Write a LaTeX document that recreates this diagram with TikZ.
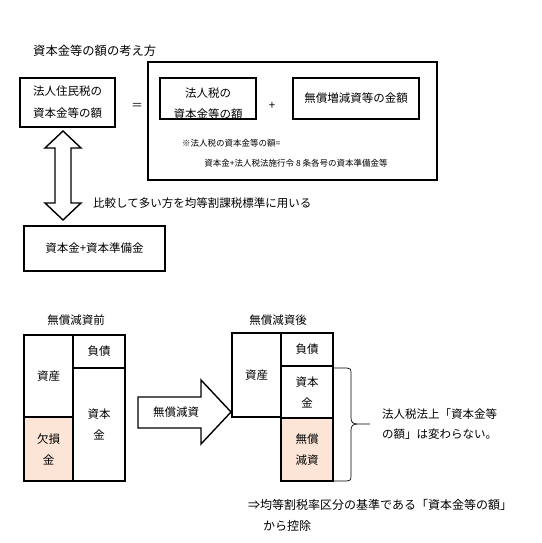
\documentclass[tikz,border=0pt]{standalone}
\usepackage{fontspec}
\setmainfont{Noto Sans CJK JP}
\definecolor{peach}{RGB}{252,229,214}
\begin{document}
\begin{tikzpicture}[x=1pt,y=-1pt,
  every node/.style={inner sep=0pt, font=\fontsize{11.5}{21}\selectfont},
  box/.style={draw, line width=1.6pt, align=center},
  cell/.style={draw, line width=1.6pt, align=center},
  txt/.style={align=left},
  note/.style={font=\fontsize{8.5}{10}\selectfont},
  blockarrow/.style={draw, line width=1.4pt, line join=miter, fill=white}]
\useasboundingbox (0,0) rectangle (541,543);
% ---------- top part ----------
\node[txt, anchor=west, font=\fontsize{12.3}{14}\selectfont] (title) at (33,51) {資本金等の額の考え方};
\node[box, minimum width=95pt, minimum height=49pt, font=\fontsize{11.5}{22}\selectfont] (jumin) at (67.5,102.5) {法人住民税の\\資本金等の額};
\node (eq) at (137,106) {＝};
\node[box, minimum width=289pt, minimum height=118pt] (big) at (292.5,121) {};
\node[box, minimum width=96pt, minimum height=41pt] (hojin) at (208,98.5) {};
\node[align=center] (hojintxt) at (208,104) {法人税の\\資本金等の額};
\node (plus) at (272,106) {+};
\node[box, minimum width=126pt, minimum height=41pt] (musho) at (356,98.5) {無償増減資等の金額};
\node[note, anchor=west] (note1) at (182,143) {※法人税の資本金等の額=};
\node[note] (note2) at (296,163) {資本金+法人税法施行令 8 条各号の資本準備金等};
% double arrow
\draw[blockarrow] (63,131) -- (81,148) -- (71,148) -- (71,203) -- (81,203) -- (63,220)
  -- (45,203) -- (55,203) -- (55,148) -- (45,148) -- cycle;
\node[txt, anchor=west] (hikaku) at (93,203) {比較して多い方を均等割課税標準に用いる};
\node[box, minimum width=141pt, minimum height=45pt] (junbi) at (94.5,248.5) {資本金+資本準備金};
% ---------- bottom left: before ----------
\node (mae) at (76,320) {無償減資前};
\node[cell, minimum width=49pt, minimum height=82pt] (shisanA) at (48.5,376) {資産};
\node[cell, fill=peach, minimum width=49pt, minimum height=64pt] (kesson) at (48.5,449) {欠損\\金};
\node[cell, minimum width=52pt, minimum height=33pt] (fusaiA) at (99,351.5) {負債};
\node[cell, minimum width=52pt, minimum height=113pt] (shihonA) at (99,424.5) {資本\\金};
% big right arrow
\draw[blockarrow] (138,397) -- (201,397) -- (201,380) -- (231,412) -- (201,444) -- (201,428) -- (138,428) -- cycle;
\node (gensi) at (176,412) {無償減資};
% ---------- bottom right: after ----------
\node (ato) at (278,320) {無償減資後};
\node[cell, minimum width=49pt, minimum height=84pt] (shisanB) at (256.5,375) {資産};
\node[cell, minimum width=52pt, minimum height=33pt] (fusaiB) at (307,349.5) {負債};
\node[cell, minimum width=52pt, minimum height=52pt] (shihonB) at (307,392) {資本\\金};
\node[cell, fill=peach, minimum width=52pt, minimum height=63pt] (mushoB) at (307,449.5) {無償\\減資};
% brace
\coordinate (btop) at (333,368);
\coordinate (bbot) at (333,481);
\coordinate (btip) at (370,424);
\draw[line width=0.7pt] (btop) -- (347,368) .. controls (350,368) and (351,369) .. (351,373)
  -- (351,418) .. controls (351,422) and (353,424) .. (357,424) -- (btip);
\draw[line width=0.7pt] (bbot) -- (347,481) .. controls (350,481) and (351,480) .. (351,476)
  -- (351,430) .. controls (351,426) and (353,424) .. (357,424);
\node[txt, anchor=west, font=\fontsize{11.5}{20}\selectfont] (kawaranai) at (382,424) {法人税法上「資本金等\\の額」は変わらない。};
\node[txt, anchor=west, font=\fontsize{12}{21}\selectfont] (kojo) at (248,515.5) {⇒均等割税率区分の基準である「資本金等の額」\\\hspace*{15pt}から控除};
\end{tikzpicture}
\end{document}
